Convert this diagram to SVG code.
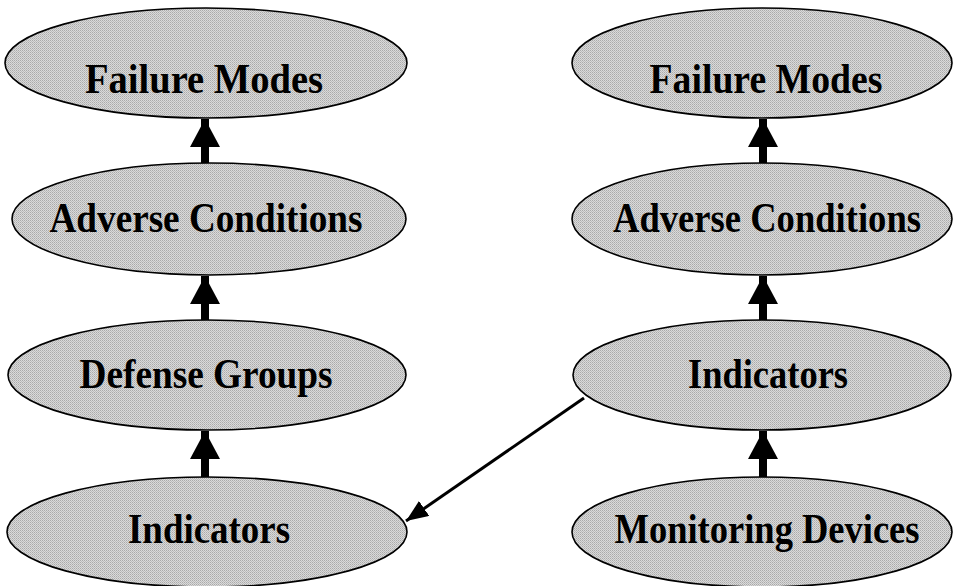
<svg xmlns="http://www.w3.org/2000/svg" width="954" height="586" viewBox="0 0 954 586">
<defs>
<pattern id="dither" width="2" height="2" patternUnits="userSpaceOnUse">
<rect width="2" height="2" fill="#dadada"/>
<rect width="1" height="1" fill="#aaaaaa"/>
<rect x="1" y="1" width="1" height="1" fill="#bcbcbc"/>
</pattern>
<marker id="big" markerUnits="userSpaceOnUse" markerWidth="30" markerHeight="30" refX="28" refY="15" orient="auto">
<path d="M0,0 L28,15 L0,30 Z" fill="#000"/>
</marker>
<marker id="small" markerUnits="userSpaceOnUse" markerWidth="24" markerHeight="18" refX="22" refY="9" orient="auto">
<path d="M0,0 L22,9 L0,18 Z" fill="#000"/>
</marker>
</defs>
<style>
.n ellipse{fill:url(#dither);stroke:#000;stroke-width:1.6}
.n text{font-family:"Liberation Serif","Times New Roman",serif;font-weight:bold;font-size:43px;fill:#000;text-anchor:middle}
.thick{stroke:#000;stroke-width:8;fill:none;marker-end:url(#big)}
.thin{stroke:#000;stroke-width:3;fill:none;marker-end:url(#small)}
</style>
<rect width="954" height="586" fill="#fff"/>
<g id="connectors">
<line class="thick" x1="205" y1="163" x2="205" y2="119"/>
<line class="thick" x1="205" y1="320" x2="205" y2="276"/>
<line class="thick" x1="205" y1="477" x2="205" y2="431"/>
<line class="thick" x1="763" y1="163" x2="763" y2="119"/>
<line class="thick" x1="763" y1="320" x2="763" y2="276"/>
<line class="thick" x1="763" y1="477" x2="763" y2="431"/>
<line class="thin" x1="584" y1="398" x2="406" y2="521"/>
</g>
<g id="left-failure-modes" class="n"><ellipse cx="206" cy="63" rx="201" ry="55"/><text x="204" y="93" textLength="238" lengthAdjust="spacingAndGlyphs">Failure Modes</text></g>
<g id="left-adverse-conditions" class="n"><ellipse cx="209" cy="219" rx="197" ry="56"/><text x="206" y="232" textLength="313" lengthAdjust="spacingAndGlyphs">Adverse Conditions</text></g>
<g id="left-defense-groups" class="n"><ellipse cx="207" cy="375" rx="199" ry="55"/><text x="206" y="388" textLength="253" lengthAdjust="spacingAndGlyphs">Defense Groups</text></g>
<g id="left-indicators" class="n"><ellipse cx="207" cy="532" rx="200" ry="55"/><text x="209" y="543" textLength="162" lengthAdjust="spacingAndGlyphs">Indicators</text></g>
<g id="right-failure-modes" class="n"><ellipse cx="762" cy="63" rx="190" ry="55"/><text x="766" y="93" textLength="233" lengthAdjust="spacingAndGlyphs">Failure Modes</text></g>
<g id="right-adverse-conditions" class="n"><ellipse cx="762" cy="219" rx="190" ry="56"/><text x="767" y="232" textLength="308" lengthAdjust="spacingAndGlyphs">Adverse Conditions</text></g>
<g id="right-indicators" class="n"><ellipse cx="762" cy="375" rx="189" ry="55"/><text x="768" y="388" textLength="160" lengthAdjust="spacingAndGlyphs">Indicators</text></g>
<g id="right-monitoring-devices" class="n"><ellipse cx="762" cy="532" rx="190" ry="55"/><text x="767" y="543" textLength="305" lengthAdjust="spacingAndGlyphs">Monitoring Devices</text></g>
</svg>
